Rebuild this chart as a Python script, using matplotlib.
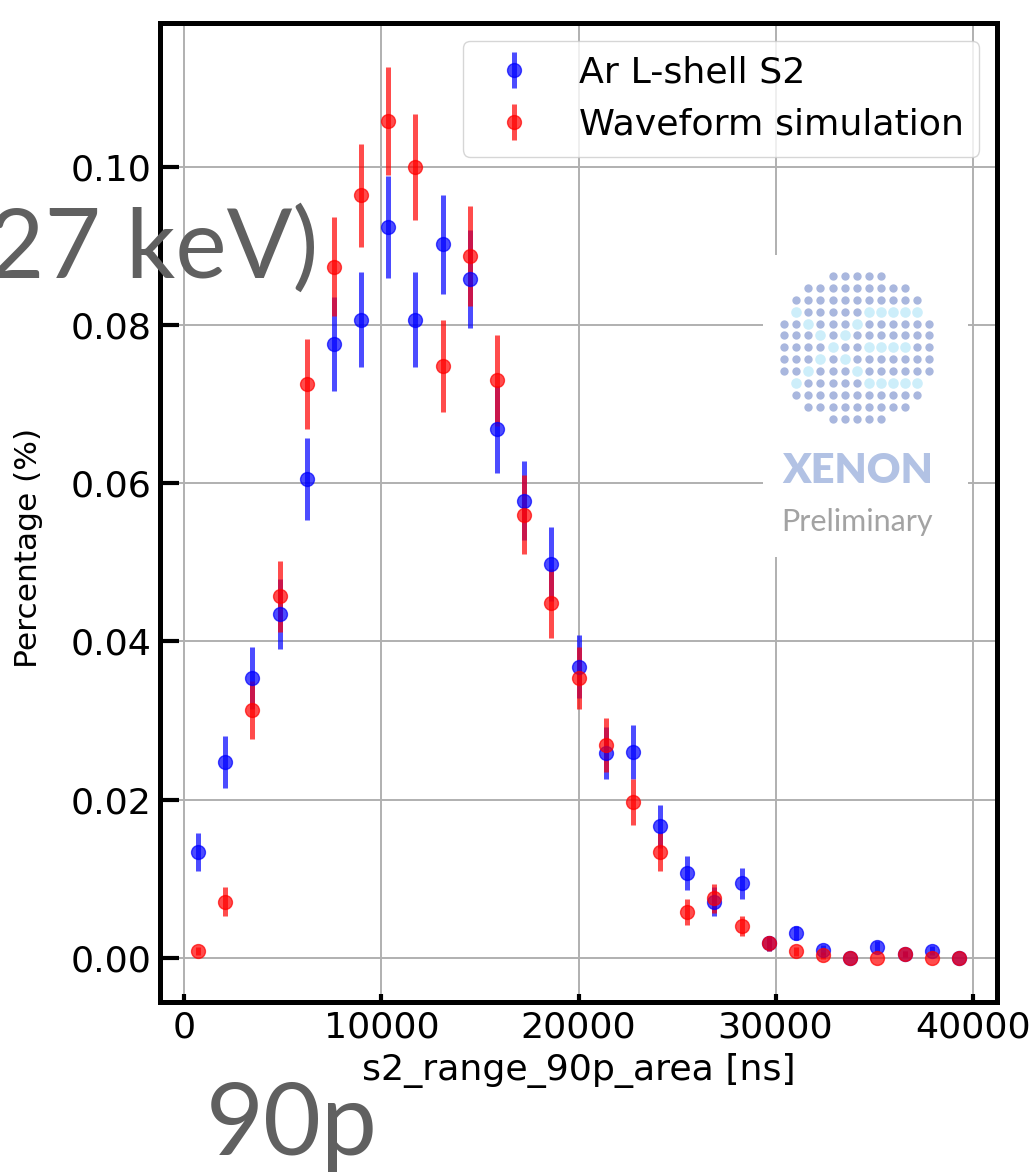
import numpy as np
import matplotlib.pyplot as plt

# bin centres of s2_range_90p_area [ns]
bin_centers = [690, 2069, 3448, 4828, 6207, 7586, 8966, 10345, 11724, 13103,
               14483, 15862, 17241, 18621, 20000, 21379, 22759, 24138, 25517,
               26897, 28276, 29655, 31034, 32414, 33793, 35172, 36552, 37931,
               39310]

# Ar L-shell S2 (data)
data_vals = [0.0134, 0.0247, 0.0354, 0.0435, 0.0605, 0.0776, 0.0807, 0.0924,
             0.0807, 0.0902, 0.0858, 0.0668, 0.0578, 0.0498, 0.0368, 0.0259,
             0.0260, 0.0166, 0.0107, 0.0071, 0.0094, 0.0018, 0.0031, 0.0010,
             0.0000, 0.0014, 0.0005, 0.0009, 0.0000]
data_errs = [0.0024, 0.0033, 0.0039, 0.0044, 0.0052, 0.0059, 0.0060, 0.0064,
             0.0060, 0.0063, 0.0062, 0.0055, 0.0050, 0.0047, 0.0040, 0.0033,
             0.0034, 0.0027, 0.0022, 0.0018, 0.0020, 0.0009, 0.0009, 0.0006,
             0.0000, 0.0007, 0.0004, 0.0006, 0.0000]

# waveform simulation
sim_vals = [0.0008, 0.0071, 0.0313, 0.0457, 0.0726, 0.0874, 0.0964, 0.1058,
            0.1000, 0.0748, 0.0887, 0.0730, 0.0560, 0.0448, 0.0354, 0.0269,
            0.0197, 0.0134, 0.0058, 0.0075, 0.0040, 0.0018, 0.0008, 0.0003,
            0.0000, 0.0000, 0.0005, 0.0000, 0.0000]
sim_errs = [0.0005, 0.0018, 0.0037, 0.0045, 0.0057, 0.0063, 0.0065, 0.0068,
            0.0067, 0.0058, 0.0063, 0.0057, 0.0050, 0.0044, 0.0039, 0.0034,
            0.0029, 0.0024, 0.0016, 0.0018, 0.0013, 0.0009, 0.0006, 0.0004,
            0.0000, 0.0000, 0.0004, 0.0000, 0.0000]

W, H = 1031, 1176
fig = plt.figure(figsize=(W / 100, H / 100), dpi=100)
ax = fig.add_axes([160 / W, 1 - 1002 / H, 837 / W, 979 / H])

fs = 26.2
ax.errorbar(bin_centers, data_vals, yerr=data_errs, fmt='o', color='blue',
            alpha=0.7, markersize=10, elinewidth=3.6, label='Ar L-shell S2', zorder=3)
ax.errorbar(bin_centers, sim_vals, yerr=sim_errs, fmt='o', color='red',
            alpha=0.7, markersize=10, elinewidth=3.6, label='Waveform simulation', zorder=3)

ax.set_xlim(-1240, 41240)
ax.set_ylim(-0.0056, 0.1182)
ax.set_xticks([0, 10000, 20000, 30000, 40000])
ax.set_yticks([0.0, 0.02, 0.04, 0.06, 0.08, 0.10])
ax.yaxis.set_major_formatter(plt.FormatStrFormatter('%.2f'))
ax.grid(True, color='#b0b0b0', linewidth=1.4, zorder=0)
ax.set_axisbelow(True)

for sp in ax.spines.values():
  sp.set_linewidth(3.6)
ax.tick_params(axis='y', direction='in', length=14, width=3, labelsize=fs, pad=6)
ax.tick_params(axis='x', direction='in', length=5.5, width=3, labelsize=fs, pad=6)

ax.set_xlabel('s2_range_90p_area [ns]', fontsize=fs, labelpad=6)
ax.set_ylabel('Percentage (%)', fontsize=22.5)
ax.yaxis.set_label_coords(-0.14, 0.464)
ax.legend(loc='upper right', fontsize=fs)

# SECTION: XENON Preliminary logo (white patch over the grid)
lx0, ly0, lw, lh = 763, 255, 205, 302
logo = fig.add_axes([lx0 / W, 1 - (ly0 + lh) / H, lw / W, lh / H], zorder=2)
logo.set_facecolor('white')
logo.set_xlim(0, lw)
logo.set_ylim(lh, 0)
logo.set_xticks([])
logo.set_yticks([])
for sp in logo.spines.values():
  sp.set_visible(False)

light = set()
for k in range(7):
  light.add((3 + k, 1 + k))
  light.add((3 + k, 7 - k))
for c in range(7, 12):
  light.add((3, c))
  light.add((9, c))
for c in range(7, 11):
  light.add((6, c))

cx, cy = 93.7, 92.3
dark_x, dark_y, lt_x, lt_y = [], [], [], []
for r in range(13):
  for c in range(13):
    if (r - 6)**2 + (c - 6)**2 > 42:
      continue
    px = cx + (c - 6) * 12.1
    py = cy + (r - 6) * 11.9
    if (r, c) in light:
      lt_x.append(px)
      lt_y.append(py)
    else:
      dark_x.append(px)
      dark_y.append(py)
logo.scatter(dark_x, dark_y, s=36, color='#a9b7de', linewidths=0)
logo.scatter(lt_x, lt_y, s=58, color='#cdeefa', linewidths=0)
logo.text(94.5, 228, 'XENON', fontsize=30, fontweight='heavy', family='Lato',
          color='#b2c2e4', ha='center', va='baseline')
logo.text(94.5, 276, 'Preliminary', fontsize=22, family='Lato',
          color='#a3a3a3', ha='center', va='baseline')

# SECTION: leftover slide text
fig.text(318 / W, 1 - 278 / H, '27 keV)', fontsize=70, family='Lato',
         color='#606060', ha='right', va='baseline', zorder=5)
fig.text(206 / W, 1 - 1155 / H, '90p', fontsize=72, family='Lato',
         color='#606060', ha='left', va='baseline', zorder=5)

fig.savefig('out.png', dpi=100)
